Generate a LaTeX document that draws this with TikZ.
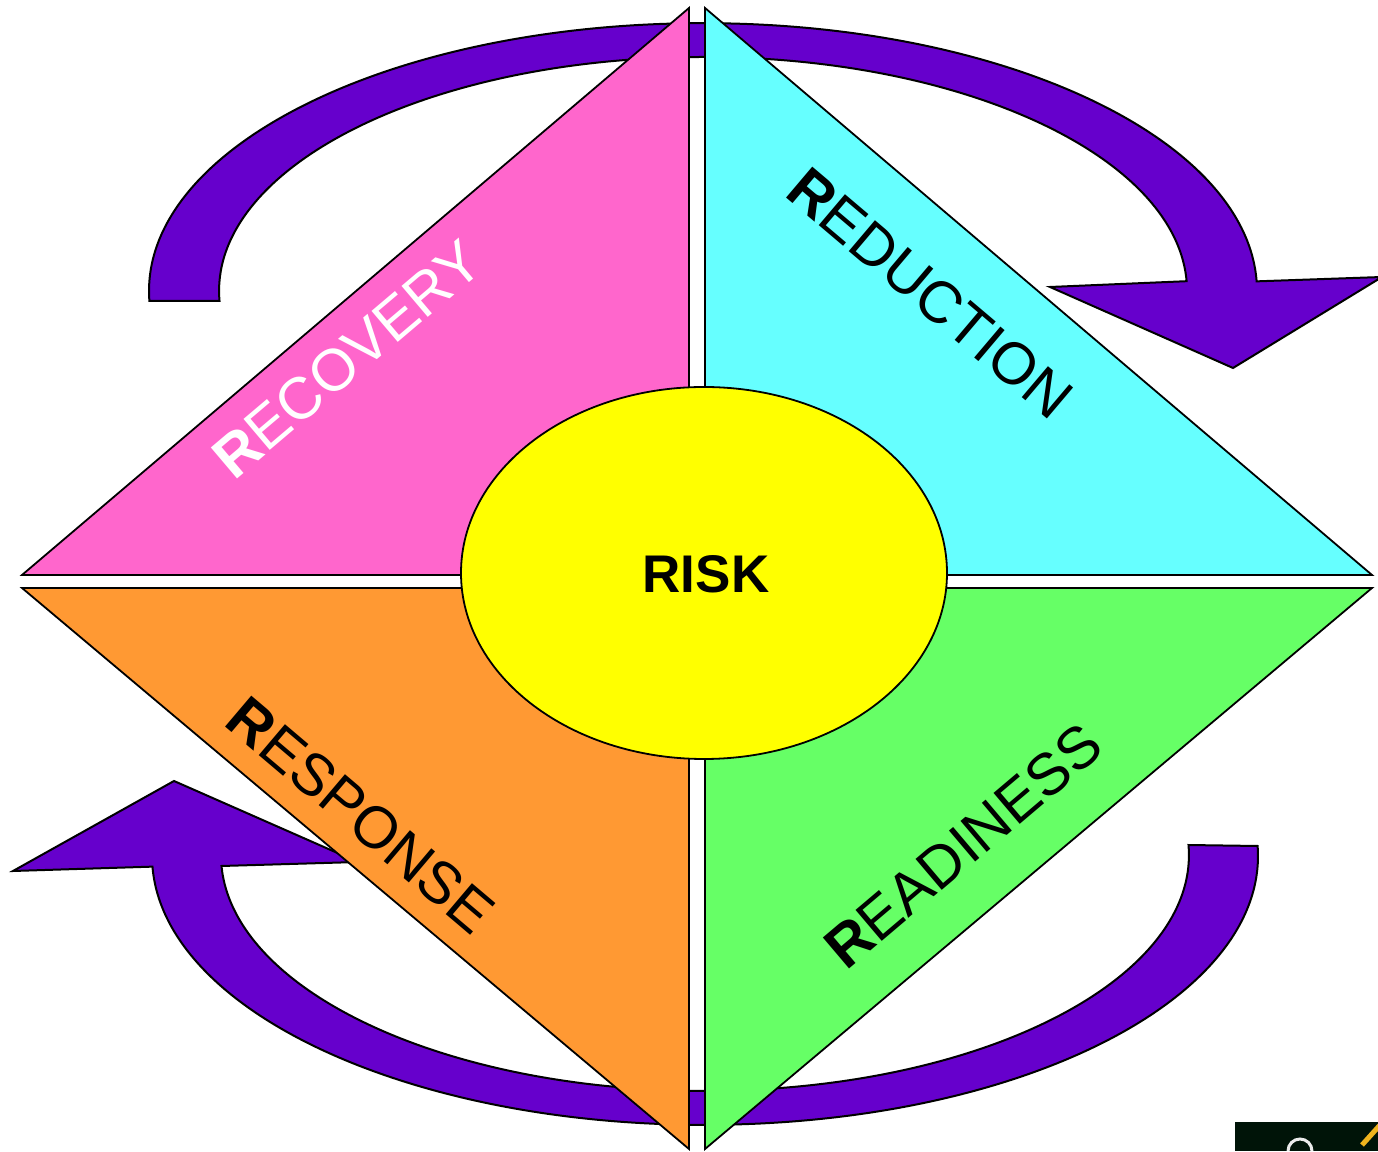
\documentclass[tikz,border=0pt]{standalone}
\usepackage{fontspec}
\setmainfont{Liberation Sans}
\definecolor{arrowpurple}{RGB}{102,0,204}
\definecolor{rpink}{RGB}{255,102,204}
\definecolor{rcyan}{RGB}{102,255,255}
\definecolor{rorange}{RGB}{255,153,51}
\definecolor{rgreen}{RGB}{102,255,102}
\definecolor{ryellow}{RGB}{255,255,0}
\definecolor{logodark}{RGB}{0,20,8}
\definecolor{logoyellow}{RGB}{240,180,30}
\tikzset{
  cyclearrow/.style={fill=arrowpurple, draw=black, line width=2pt, line join=miter},
  quad/.style={draw=black, line width=1.8pt, line join=miter},
  phase/.style={inner sep=0pt, font=\fontsize{59}{62}\selectfont},
}
\begin{document}
\begin{tikzpicture}[x=1pt,y=1pt]
\useasboundingbox (0,0) rectangle (1378,1151);
% cycle arrows (behind)
\draw[cyclearrow] (149.4,850) arc[start angle=182.1, end angle=2.1, x radius=554, y radius=268]
  -- (1382,874) -- (1233,783) -- (1050,864) -- (1186.6,869.8)
  arc[start angle=2.4, end angle=182.4, x radius=484, y radius=234] -- cycle;
\draw[cyclearrow] (1257.6,305) arc[start angle=362.1, end angle=182.3, x radius=553, y radius=269]
  -- (13,280) -- (174,370) -- (358,289) -- (221.5,285)
  arc[start angle=182.7, end angle=362.4, x radius=484, y radius=236] -- cycle;
% four triangles
\draw[quad, fill=rpink] (689,1143) -- (689,576) -- (22,576) -- cycle;
\draw[quad, fill=rcyan] (705,1143) -- (705,576) -- (1372,576) -- cycle;
\draw[quad, fill=rorange] (22,563) -- (689,563) -- (689,2) -- cycle;
\draw[quad, fill=rgreen] (705,563) -- (1372,563) -- (705,2) -- cycle;
% centre
\draw[quad, fill=ryellow] (704,578) ellipse[x radius=243, y radius=186];
\node[font=\fontsize{53}{56}\selectfont\bfseries, inner sep=0pt] (risk) at (706,577) {RISK};
% labels
\node[phase, text=white, rotate=40.27] (recovery) at (347,792) {\textbf{R}ECOVERY};
\node[phase, rotate=-40.27] (reduction) at (930,858) {\textbf{R}EDUCTION};
\node[phase, rotate=-40.27] (response) at (361,336) {\textbf{R}ESPONSE};
\node[phase, rotate=40.27] (readiness) at (963,305) {\textbf{R}EADINESS};
% cut-off corner logo
\fill[logodark] (1235,0) rectangle (1378,29);
\draw[white!85!gray, line width=3pt] (1288,0) arc[start angle=180, end angle=0, radius=12];
\draw[logoyellow, line width=5pt] (1362,6) -- (1380,26);
\end{tikzpicture}
\end{document}
